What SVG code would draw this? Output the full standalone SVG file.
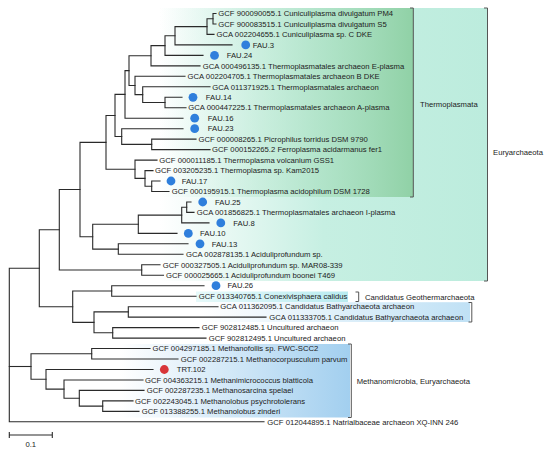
<svg xmlns="http://www.w3.org/2000/svg" width="550" height="452" viewBox="0 0 550 452">
<style>
text{font-family:"Liberation Sans",Arial,sans-serif;font-size:7.7px;fill:#222}
.br{fill:none;stroke:#2a2a2a;stroke-width:1.1;stroke-linecap:square}
.bk{fill:none;stroke:#555;stroke-width:1}
.fau{fill:#2f7fdc}
.trt{fill:#d8363a}
</style>
<defs>
<linearGradient id="gEury" x1="0" y1="0" x2="1" y2="0">
<stop offset="0" stop-color="#ffffff"/>
<stop offset="0.5" stop-color="#c6efe2"/>
<stop offset="1" stop-color="#bcecdd"/>
</linearGradient>
<linearGradient id="gThermo" x1="0" y1="0" x2="1" y2="0">
<stop offset="0" stop-color="#c3eee1" stop-opacity="0"/>
<stop offset="0.45" stop-color="#b5e6cc" stop-opacity="0.55"/>
<stop offset="1" stop-color="#90d1a6"/>
</linearGradient>
<linearGradient id="gGeo" x1="0" y1="0" x2="1" y2="0">
<stop offset="0" stop-color="#e6f9fa"/>
<stop offset="1" stop-color="#b8ebf0"/>
</linearGradient>
<linearGradient id="gBathy" x1="0" y1="0" x2="1" y2="0">
<stop offset="0" stop-color="#ffffff"/>
<stop offset="1" stop-color="#c0e1f5"/>
</linearGradient>
<linearGradient id="gMeth" x1="0" y1="0" x2="1" y2="0">
<stop offset="0" stop-color="#ffffff"/>
<stop offset="1" stop-color="#a2cfef"/>
</linearGradient>
</defs>
<rect width="550" height="452" fill="#fff"/>

<g id="clade-euryarchaeota">
<rect x="160" y="8" width="327.5" height="273" fill="url(#gEury)"/>
<path class="bk" d="M484 8H487.5V281H484"/>
<text x="493" y="154.5">Euryarchaeota</text>
</g>
<g id="clade-thermoplasmata">
<rect x="160" y="8" width="253.3" height="189" fill="url(#gThermo)"/>
<path class="bk" d="M410 8H413.3V197H410"/>
<text x="420" y="106.7">Thermoplasmata</text>
</g>
<g id="clade-geothermarchaeota">
<rect x="196" y="291.5" width="152" height="10.5" fill="url(#gGeo)"/>
<path class="bk" d="M355.5 292H358.7V301.5H355.5"/>
<text x="365" y="300.4">Candidatus Geothermarchaeota</text>
</g>
<g id="clade-bathyarchaeota">
<rect x="200" y="302.2" width="270" height="19.8" fill="url(#gBathy)"/>
<path class="bk" d="M468.5 302.5H471.8V322H468.5"/>
</g>
<g id="clade-methanomicrobia">
<rect x="120" y="344" width="230" height="73.5" fill="url(#gMeth)"/>
<path class="bk" d="M348 344H351.3V417.5H348"/>
<text x="356.7" y="384.4">Methanomicrobia, Euryarchaeota</text>
</g>

<g id="connectors" class="br">
<path d="M216 13.5H213V24H216"/>
<path d="M213 18.7H207V34.4H214"/>
<path d="M207 26.6H175V44.9H232"/>
<path d="M175 35.8H165V55.4H203"/>
<path d="M165 45.6H151V65.9H200"/>
<path d="M182 97.3H165V107.7H186"/>
<path d="M210 86.8H142.7V102.5H165"/>
<path d="M185 76.3H135V94.6H142.7"/>
<path d="M151 55.7H129V85.5H135"/>
<path d="M129 70.6H125V118.2H183"/>
<path d="M196 139.1H151.7V149.6H210"/>
<path d="M183 128.7H121.7V144.4H151.7"/>
<path d="M125 94.4H115V136.5H121.7"/>
<path d="M160 181H151.7V191.5H169"/>
<path d="M153 170.6H145V186.3H151.7"/>
<path d="M157 160.1H135V178.4H145"/>
<path d="M115 115.5H106V169.2H135"/>
<path d="M191 202H186.7V212.4H194"/>
<path d="M186.7 207.2H181.7V222.9H209"/>
<path d="M181.7 215.1H138.3V233.4H177"/>
<path d="M188 243.8H118.3V254.3H183"/>
<path d="M138.3 224.2H92.7V249.1H118.3"/>
<path d="M106 142.4H80V236.7H92.7"/>
<path d="M160 264.8H141.7V275.3H163.5"/>
<path d="M80 189.5H59.3V270H141.7"/>
<path d="M204 285.7H111.7V296.2H196"/>
<path d="M218 306.7H128.3V317.1H266"/>
<path d="M199 327.6H112.7V338.1H206"/>
<path d="M128.3 311.9H94V332.8H112.7"/>
<path d="M111.7 291H72.7V322.4H94"/>
<path d="M59.3 229.8H39.3V306.7H72.7"/>
<path d="M150 348.5H91.7V359H178"/>
<path d="M133 400.9H102.7V411.4H139"/>
<path d="M144 390.4H79.3V406.1H102.7"/>
<path d="M143 380H64V398.3H79.3"/>
<path d="M153 369.5H46V389.1H64"/>
<path d="M91.7 353.8H31V379.3H46"/>
<path d="M39.3 268.2H9.3V421.8H264"/>
<path d="M9.3 366.5H31"/>
</g>

<g id="leaf-01"><text x="218.3" y="16.2">GCF 900090055.1 Cuniculiplasma divulgatum PM4</text></g>
<g id="leaf-02"><text x="218.3" y="26.7">GCF 900083515.1 Cuniculiplasma divulgatum S5</text></g>
<g id="leaf-03"><text x="216.5" y="37.1">GCA 002204655.1 Cuniculiplasma sp. C DKE</text></g>
<g id="leaf-04"><circle class="fau" cx="245.7" cy="44.9" r="4.4"/><text x="252.7" y="47.6">FAU.3</text></g>
<g id="leaf-05"><circle class="fau" cx="214.5" cy="55.4" r="4.4"/><text x="226.7" y="58.1">FAU.24</text></g>
<g id="leaf-06"><text x="202.7" y="68.6">GCA 000496135.1 Thermoplasmatales archaeon E-plasma</text></g>
<g id="leaf-07"><text x="187.5" y="79">GCA 002204705.1 Thermoplasmatales archaeon B DKE</text></g>
<g id="leaf-08"><text x="212.3" y="89.5">GCA 011371925.1 Thermoplasmatales archaeon</text></g>
<g id="leaf-09"><circle class="fau" cx="193" cy="97.3" r="4.4"/><text x="205.8" y="100">FAU.14</text></g>
<g id="leaf-10"><text x="188.3" y="110.4">GCA 000447225.1 Thermoplasmatales archaeon A-plasma</text></g>
<g id="leaf-11"><circle class="fau" cx="194.7" cy="118.2" r="4.4"/><text x="207.8" y="120.9">FAU.16</text></g>
<g id="leaf-12"><circle class="fau" cx="194.7" cy="128.7" r="4.4"/><text x="207.8" y="131.4">FAU.23</text></g>
<g id="leaf-13"><text x="198.5" y="141.8">GCF 000008265.1 Picrophilus torridus DSM 9790</text></g>
<g id="leaf-14"><text x="212" y="152.3">GCF 000152265.2 Ferroplasma acidarmanus fer1</text></g>
<g id="leaf-15"><text x="159.3" y="162.8">GCF 000011185.1 Thermoplasma volcanium GSS1</text></g>
<g id="leaf-16"><text x="155" y="173.3">GCF 003205235.1 Thermoplasma sp. Kam2015</text></g>
<g id="leaf-17"><circle class="fau" cx="171" cy="181" r="4.4"/><text x="181.7" y="183.7">FAU.17</text></g>
<g id="leaf-18"><text x="171.7" y="194.2">GCF 000195915.1 Thermoplasma acidophilum DSM 1728</text></g>
<g id="leaf-19"><circle class="fau" cx="202.7" cy="202" r="4.4"/><text x="215" y="204.7">FAU.25</text></g>
<g id="leaf-20"><text x="196.7" y="215.1">GCA 001856825.1 Thermoplasmatales archaeon I-plasma</text></g>
<g id="leaf-21"><circle class="fau" cx="220.8" cy="222.9" r="4.4"/><text x="233.3" y="225.6">FAU.8</text></g>
<g id="leaf-22"><circle class="fau" cx="188.3" cy="233.4" r="4.4"/><text x="200" y="236.1">FAU.10</text></g>
<g id="leaf-23"><circle class="fau" cx="200" cy="243.8" r="4.4"/><text x="211.7" y="246.5">FAU.13</text></g>
<g id="leaf-24"><text x="186" y="257">GCA 002878135.1 Aciduliprofundum sp.</text></g>
<g id="leaf-25"><text x="162.7" y="267.5">GCF 000327505.1 Aciduliprofundum sp. MAR08-339</text></g>
<g id="leaf-26"><text x="166" y="278">GCF 000025665.1 Aciduliprofundum boonei T469</text></g>
<g id="leaf-27"><circle class="fau" cx="216" cy="285.7" r="4.4"/><text x="227.5" y="288.4">FAU.26</text></g>
<g id="leaf-28"><text x="198.7" y="298.9">GCF 013340765.1 Conexivisphaera calidus</text></g>
<g id="leaf-29"><text x="220.3" y="309.4">GCA 011362095.1 Candidatus Bathyarchaeota archaeon</text></g>
<g id="leaf-30"><text x="269.3" y="319.8">GCA 011333705.1 Candidatus Bathyarchaeota archaeon</text></g>
<g id="leaf-31"><text x="201.7" y="330.3">GCF 902812485.1 Uncultured archaeon</text></g>
<g id="leaf-32"><text x="208.7" y="340.8">GCF 902812495.1 Uncultured archaeon</text></g>
<g id="leaf-33"><text x="152.5" y="351.2">GCF 004297185.1 Methanofollis sp. FWC-SCC2</text></g>
<g id="leaf-34"><text x="180.7" y="361.7">GCF 002287215.1 Methanocorpusculum parvum</text></g>
<g id="leaf-35"><circle class="trt" cx="164.3" cy="369.5" r="4.4"/><text x="176.7" y="372.2">TRT.102</text></g>
<g id="leaf-36"><text x="145" y="382.7">GCF 004363215.1 Methanimicrococcus blatticola</text></g>
<g id="leaf-37"><text x="146.7" y="393.1">GCF 002287235.1 Methanosarcina spelaei</text></g>
<g id="leaf-38"><text x="135" y="403.6">GCF 002243045.1 Methanolobus psychrotolerans</text></g>
<g id="leaf-39"><text x="141.7" y="414.1">GCF 013388255.1 Methanolobus zinderi</text></g>
<g id="leaf-40"><text x="267.3" y="424.5">GCF 012044895.1 Natrialbaceae archaeon XQ-INN 246</text></g>

<g id="scale-bar">
<path class="br" d="M9.3 435H52.3M9.3 432.5V437.5M52.3 432.5V437.5"/>
<text x="30.8" y="446.5" text-anchor="middle">0.1</text>
</g>
</svg>
